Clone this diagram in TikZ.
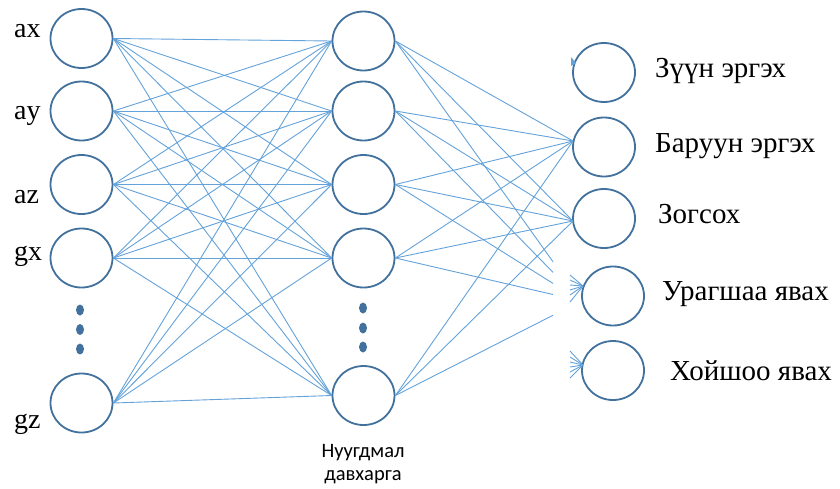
\documentclass[tikz,border=0pt]{standalone}
\usepackage{fontspec}
\setmainfont{Liberation Serif}
\newfontfamily\labelsans{Carlito}
\usetikzlibrary{shapes.geometric}
\definecolor{nodeblue}{HTML}{41719C}
\definecolor{linkblue}{HTML}{64A2DA}
\begin{document}
\begin{tikzpicture}[x=1pt,y=-1pt,
  neuron/.style={ellipse, draw=nodeblue, line width=1.8pt,
    minimum width=62pt, minimum height=59pt, inner sep=0pt},
  link/.style={draw=linkblue, line width=0.9pt},
  inlabel/.style={anchor=base west, inner sep=0pt, font=\fontsize{28}{32}\selectfont},
  outlabel/.style={anchor=base west, inner sep=0pt, font=\fontsize{29}{33}\selectfont},
  layerlabel/.style={anchor=base, inner sep=0pt, font=\labelsans\fontsize{20.5}{24}\selectfont},
  dot/.style={fill=nodeblue}]
\useasboundingbox (0,0) rectangle (840,488);

% connections first, so the circles sit on top of their ends
% entry points on the output side
\coordinate (t2) at (573,141);
\coordinate (t3) at (573,221);
\coordinate (t4) at (581,301);
\coordinate (s4) at (583,286);
\coordinate (s5) at (583,365);
\coordinate (a1) at (576,63);

% input layer
\node[neuron] (i1) at (81.5,38.5) {};
\node[neuron] (i2) at (81.5,111) {};
\node[neuron] (i3) at (81.5,184.5) {};
\node[neuron] (i4) at (81.5,258) {};
\node[neuron] (i5) at (81.5,403) {};

% hidden layer
\node[neuron] (h1) at (363.5,41) {};
\node[neuron] (h2) at (363.5,111) {};
\node[neuron] (h3) at (363.5,184.5) {};
\node[neuron] (h4) at (363.5,258) {};
\node[neuron] (h5) at (363.5,395.5) {};

% output layer
\node[neuron] (o1) at (604,72.5) {};
\node[neuron] (o2) at (604,147) {};
\node[neuron] (o3) at (604,218.5) {};
\node[neuron] (o4) at (613,296) {};
\node[neuron] (o5) at (613,370.5) {};

% input -> hidden, fully connected
\foreach \i in {1,...,5}
  \foreach \j in {1,...,5}
    \draw[link] (i\i.east) -- (h\j.west);

% hidden -> outputs
\foreach \j in {1,...,5} {
  \draw[link] (h\j.east) -- (t2);
  \draw[link] (h\j.east) -- (t3);
}
\begin{scope}
  \clip (0,0) rectangle (553,488);
  \foreach \j in {1,...,5}
    \draw[link] (h\j.east) -- (t4);
\end{scope}

% arrow fans at the lower outputs
\foreach \dy in {-11,-6,-1,4,9,16}
  \draw[link] (s4) -- ++(-13,\dy);
\foreach \dy in {-14,-8,-3,2,7,13}
  \draw[link] (s5) -- ++(-13,\dy);
\fill[linkblue] (a1) -- ++(-5,-6) -- ++(0,9) -- cycle;

% ellipsis dots
\fill[dot] (80,310) ellipse [x radius=4, y radius=5.5];
\fill[dot] (80,329.5) ellipse [x radius=4, y radius=5.5];
\fill[dot] (80,349) ellipse [x radius=4, y radius=5.5];
\fill[dot] (363,308) ellipse [x radius=4, y radius=5.5];
\fill[dot] (363,328) ellipse [x radius=4, y radius=5.5];
\fill[dot] (363,347) ellipse [x radius=4, y radius=5.5];

% input labels
\node[inlabel] (lax) at (14,37) {ax};
\node[inlabel] (lay) at (14,119) {ay};
\node[inlabel] (laz) at (14,203) {az};
\node[inlabel] (lgx) at (14,260) {gx};
\node[inlabel] (lgz) at (14,428) {gz};

% output labels
\node[outlabel] (l1) at (655,77) {Зүүн эргэх};
\node[outlabel] (l2) at (655,152) {Баруун эргэх};
\node[outlabel] (l3) at (658,223) {Зогсох};
\node[outlabel] (l4) at (662,300) {Урагшаа явах};
\node[outlabel] (l5) at (670,380) {Хойшоо явах};

% hidden layer caption
\node[layerlabel] (c1) at (363,457) {Нуугдмал};
\node[layerlabel] (c2) at (363,480) {давхарга};
\end{tikzpicture}
\end{document}
